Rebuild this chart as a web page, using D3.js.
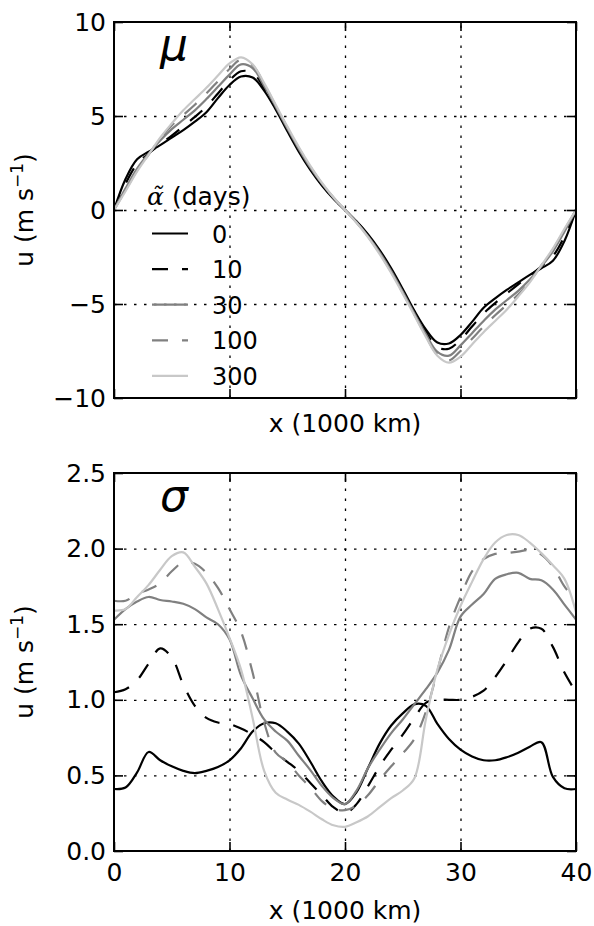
<!DOCTYPE html>
<html>
<head>
<meta charset="utf-8">
<script src="https://cdn.jsdelivr.net/npm/d3@7"></script>
<style>
  body { margin: 0; background: #fff; }
  svg { display: block; }
  text { font-family: "DejaVu Sans", sans-serif; fill: #000; }
</style>
</head>
<body>
<svg id="chart" width="594" height="926"></svg>
<script>
// Distance along the channel (1000 km)
const xKm = [0,1,2,3,4,5,6,7,8,9,10,11,12,13,14,15,16,17,18,19,20,
             21,22,23,24,25,26,27,28,29,30,31,32,33,34,35,36,37,38,39,40];

// Legend entries: relaxation time alpha (days)
const alphaDays = ["0", "10", "30", "100", "300"];

// Mean velocity mu (m s^-1) for each alpha
const muA0   = [0,1.65,2.7,3.1,3.45,3.85,4.25,4.7,5.2,5.95,6.65,7.1,7.05,6.35,5.35,4.2,3.1,2.13,1.3,0.6,0,
                -0.6,-1.3,-2.13,-3.1,-4.2,-5.35,-6.35,-7.05,-7.1,-6.65,-5.95,-5.2,-4.7,-4.25,-3.85,-3.45,-3.1,-2.7,-1.65,0];
const muA10  = [0,1.4,2.45,3.0,3.5,3.95,4.45,4.95,5.5,6.2,6.9,7.38,7.3,6.5,5.45,4.3,3.2,2.2,1.35,0.62,0,
                -0.62,-1.35,-2.2,-3.2,-4.3,-5.45,-6.5,-7.3,-7.38,-6.9,-6.2,-5.5,-4.95,-4.45,-3.95,-3.5,-3.0,-2.45,-1.4,0];
const muA30  = [0,1.15,2.2,3.0,3.7,4.3,4.8,5.3,5.9,6.55,7.2,7.75,7.55,6.6,5.5,4.35,3.25,2.25,1.4,0.65,0,
                -0.65,-1.4,-2.25,-3.25,-4.35,-5.5,-6.6,-7.55,-7.75,-7.2,-6.55,-5.9,-5.3,-4.8,-4.3,-3.7,-3.0,-2.2,-1.15,0];
const muA100 = [0,1.05,2.1,2.95,3.8,4.5,5.05,5.6,6.2,6.85,7.5,8.0,7.7,6.7,5.55,4.4,3.3,2.3,1.42,0.66,0,
                -0.66,-1.42,-2.3,-3.3,-4.4,-5.55,-6.7,-7.7,-8.0,-7.5,-6.85,-6.2,-5.6,-5.05,-4.5,-3.8,-2.95,-2.1,-1.05,0];
const muA300 = [0,1.0,2.05,2.95,3.85,4.6,5.3,5.9,6.5,7.15,7.8,8.12,7.75,6.75,5.6,4.45,3.35,2.35,1.45,0.68,0,
                -0.68,-1.45,-2.35,-3.35,-4.45,-5.6,-6.75,-7.75,-8.12,-7.8,-7.15,-6.5,-5.9,-5.3,-4.6,-3.85,-2.95,-2.05,-1.0,0];

// Standard deviation sigma (m s^-1) for each alpha
const sigA0   = [0.41,0.42,0.52,0.655,0.60,0.56,0.53,0.515,0.53,0.555,0.60,0.68,0.79,0.845,0.845,0.79,0.71,0.59,0.46,0.36,0.31,
                 0.39,0.55,0.71,0.83,0.91,0.97,0.96,0.84,0.74,0.67,0.625,0.60,0.60,0.62,0.65,0.69,0.72,0.49,0.415,0.41];
const sigA10  = [1.05,1.07,1.13,1.24,1.34,1.28,1.10,0.96,0.88,0.85,0.84,0.81,0.77,0.72,0.65,0.59,0.53,0.45,0.37,0.29,0.25,
                 0.31,0.43,0.56,0.67,0.77,0.88,0.98,1.0,1.0,1.0,1.02,1.06,1.15,1.26,1.38,1.47,1.47,1.35,1.18,1.05];
const sigA30  = [1.53,1.60,1.65,1.68,1.66,1.65,1.635,1.60,1.545,1.50,1.40,1.16,1.01,0.87,0.79,0.73,0.63,0.535,0.43,0.35,0.31,
                 0.40,0.55,0.67,0.78,0.87,0.97,1.07,1.18,1.33,1.55,1.63,1.70,1.80,1.83,1.84,1.80,1.79,1.73,1.63,1.53];
const sigA100 = [1.655,1.655,1.70,1.73,1.77,1.85,1.91,1.90,1.84,1.74,1.60,1.45,1.18,0.85,0.65,0.59,0.50,0.42,0.33,0.28,0.27,
                 0.30,0.37,0.47,0.56,0.645,0.74,0.92,1.19,1.48,1.68,1.85,1.93,1.965,1.97,1.98,1.99,1.96,1.88,1.75,1.655];
const sigA300 = [1.59,1.60,1.68,1.76,1.86,1.95,1.975,1.88,1.77,1.60,1.41,1.20,0.88,0.53,0.385,0.34,0.305,0.26,0.21,0.17,0.16,
                 0.19,0.23,0.29,0.35,0.40,0.48,0.87,1.20,1.43,1.62,1.78,1.93,2.04,2.09,2.09,2.04,1.97,1.89,1.80,1.58];

// Axis ticks
const xTicks = [0, 10, 20, 30, 40];
const muTicks = [-10, -5, 0, 5, 10];
const sigTicks = [0.0, 0.5, 1.0, 1.5, 2.0, 2.5];

// Line styles per alpha
const styles = [
  { color: "#000000", dash: null },
  { color: "#000000", dash: "16,14" },
  { color: "#808080", dash: null },
  { color: "#808080", dash: "16,14" },
  { color: "#c8c8c8", dash: null }
];

const svg = d3.select("#chart");
const left = 114, right = 576;
const FS = 25;

const x = d3.scaleLinear().domain([0, 40]).range([left, right]);

function drawPanel(cfg) {
  const y = d3.scaleLinear().domain(cfg.domain).range([cfg.bottom, cfg.top]);
  const g = svg.append("g");
  const w = right - left, h = cfg.bottom - cfg.top;

  // dotted grid
  const grid = g.append("g").attr("class", "grid");
  grid.append("g").attr("transform", `translate(0,${cfg.bottom})`)
    .call(d3.axisBottom(x).tickValues(xTicks.slice(1, -1)).tickSize(-h).tickFormat(""));
  grid.append("g").attr("transform", `translate(${left},0)`)
    .call(d3.axisLeft(y).tickValues(cfg.ticks.slice(1, -1)).tickSize(-w).tickFormat(""));
  grid.selectAll(".domain").remove();
  grid.selectAll("line").attr("stroke", "#000").attr("stroke-width", 1.3)
    .attr("stroke-dasharray", "2.5,7.5");

  // data lines
  const line = d3.line().x((d, i) => x(xKm[i])).y(d => y(d)).curve(d3.curveCatmullRom.alpha(0.5));
  cfg.series.forEach((s, k) => {
    g.append("path").datum(s)
      .attr("d", line)
      .attr("fill", "none")
      .attr("stroke", styles[k].color)
      .attr("stroke-width", 2.2)
      .attr("stroke-dasharray", styles[k].dash)
      .attr("stroke-linejoin", "round");
  });

  // axes with inward ticks on all four sides
  const tick = 9;
  const axB = g.append("g").attr("transform", `translate(0,${cfg.bottom})`)
    .call(d3.axisBottom(x).tickValues(xTicks).tickSize(-tick).tickPadding(12)
      .tickFormat(cfg.xLabels ? d3.format("d") : ""));
  const axT = g.append("g").attr("transform", `translate(0,${cfg.top})`)
    .call(d3.axisTop(x).tickValues(xTicks).tickSize(-tick).tickFormat(""));
  const axL = g.append("g").attr("transform", `translate(${left},0)`)
    .call(d3.axisLeft(y).tickValues(cfg.ticks).tickSize(-tick).tickPadding(8).tickFormat(cfg.fmt));
  const axR = g.append("g").attr("transform", `translate(${right},0)`)
    .call(d3.axisRight(y).tickValues(cfg.ticks).tickSize(-tick).tickFormat(""));
  [axB, axT, axL, axR].forEach(a => {
    a.select(".domain").remove();
    a.selectAll("line").attr("stroke", "#000").attr("stroke-width", 1.6);
    a.selectAll("text").attr("font-size", FS).attr("font-family", "DejaVu Sans").attr("fill", "#000");
  });
  axB.selectAll("text").attr("dy", "0.71em");

  // frame
  g.append("rect").attr("x", left).attr("y", cfg.top).attr("width", w).attr("height", h)
    .attr("fill", "none").attr("stroke", "#000").attr("stroke-width", 2);

  // axis titles
  g.append("text").attr("x", (left + right) / 2).attr("y", cfg.xTitleY)
    .attr("text-anchor", "middle").attr("font-size", FS).text("x (1000 km)");
  const yl = g.append("text")
    .attr("transform", `translate(33,${(cfg.top + cfg.bottom) / 2}) rotate(-90)`)
    .attr("text-anchor", "middle").attr("font-size", FS);
  yl.append("tspan").text("u (m s");
  yl.append("tspan").attr("dy", -10).attr("font-size", 17).text("−1");
  yl.append("tspan").attr("dy", 10).text(")");

  // panel symbol
  g.append("text").attr("x", 160).attr("y", cfg.symbolY)
    .attr("font-family", "DejaVu Serif").attr("font-style", "italic").attr("font-size", 44)
    .text(cfg.symbol);
  return y;
}

drawPanel({
  top: 22, bottom: 398, domain: [-10, 10], ticks: muTicks, fmt: d3.format("d"),
  series: [muA0, muA10, muA30, muA100, muA300], xLabels: false, xTitleY: 432,
  symbol: "μ", symbolY: 60
});
drawPanel({
  top: 473, bottom: 851, domain: [0, 2.5], ticks: sigTicks, fmt: d3.format(".1f"),
  series: [sigA0, sigA10, sigA30, sigA100, sigA300], xLabels: true, xTitleY: 919,
  symbol: "σ", symbolY: 511
});

// legend
const leg = svg.append("g");
const lt = leg.append("text").attr("x", 147).attr("y", 205).attr("font-size", FS);
lt.append("tspan").attr("font-family", "DejaVu Serif").attr("font-style", "italic").text("α\u0303");
lt.append("tspan").attr("dx", 8).text("(days)");
alphaDays.forEach((lab, i) => {
  const yy = 233.5 + i * 35.6;
  leg.append("line").attr("x1", 152).attr("x2", 188).attr("y1", yy).attr("y2", yy)
    .attr("stroke", styles[i].color).attr("stroke-width", 2.2)
    .attr("stroke-dasharray", styles[i].dash);
  leg.append("text").attr("x", 212).attr("y", yy + 9).attr("font-size", 24).text(lab);
});
</script>
</body>
</html>
